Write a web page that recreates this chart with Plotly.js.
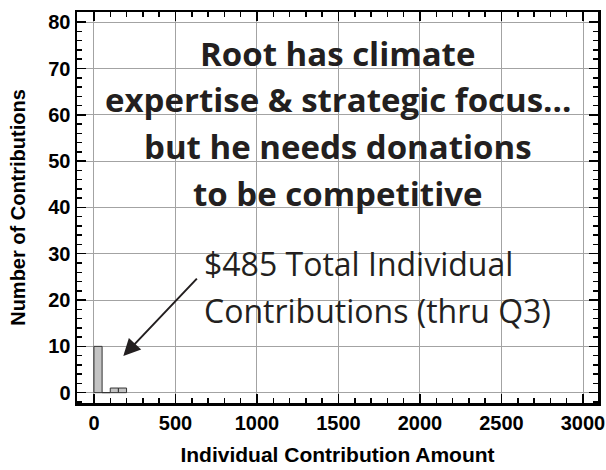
<!DOCTYPE html>
<html><head><meta charset="utf-8">
<script src="https://cdn.plot.ly/plotly-3.0.1.min.js"></script>
<style>html,body{margin:0;padding:0;background:#fff}#chart{width:606px;height:470px}</style>
</head><body><div id="chart"></div>
<script>
// ---- data ----
const binStarts = [0, 50, 100, 150];
const binCounts = [10, 0, 1, 1];
const binWidth = 50;
const xTickVals = [0, 500, 1000, 1500, 2000, 2500, 3000];
const xTickText = ["0", "500", "1000", "1500", "2000", "2500", "3000"];
const yTickVals = [0, 10, 20, 30, 40, 50, 60, 70, 80];
const yTickText = ["0", "10", "20", "30", "40", "50", "60", "70", "80"];
const headlineLines = ["Root has climate", "expertise & strategic focus...", "but he needs donations", "to be competitive"];
const calloutLines = ["$485 Total Individual", "Contributions (thru Q3)"];
const xTitleText = "Individual Contribution Amount";
const yTitleText = "Number of Contributions";

// ---- layout helpers ----
const headY = [73.3, 63.3, 53.2, 43.1];
const calloutY = [28.0, 17.7];
const inkColor = '#231f20';
const gridGray = '#a3a3a3';
const tickFont = {family: 'Liberation Sans, Arial, sans-serif', size: 20, color: '#000', weight: 'bold'};

const annotations = [];
headlineLines.forEach((t, i) => annotations.push({
  text: t, xref: 'x', yref: 'y', x: 1494, y: headY[i], xanchor: 'center', yanchor: 'middle',
  showarrow: false, font: {family: 'Open Sans, sans-serif', size: 33, color: inkColor, weight: 'bold'}
}));
calloutLines.forEach((t, i) => annotations.push({
  text: t, xref: 'x', yref: 'y', x: 662, y: calloutY[i], xanchor: 'left', yanchor: 'middle',
  showarrow: false, font: {family: 'Open Sans, sans-serif', size: 32, color: inkColor}
}));
annotations.push({
  text: '', xref: 'x', yref: 'y', x: 180, y: 7.9, ax: 75, ay: -79,
  showarrow: true, arrowhead: 2, arrowsize: 1.7, arrowwidth: 2, arrowcolor: inkColor, standoff: 0
});

const trace = {
  type: 'bar', x: binStarts, y: binCounts, width: binWidth, offset: 0,
  marker: {color: '#c4c4c4', line: {color: '#333', width: 1}},
  hoverinfo: 'skip'
};

const axisCommon = {
  ticks: 'inside', tickcolor: '#000', tickwidth: 1.5, ticklen: 9,
  mirror: 'allticks', showline: true, linecolor: '#000', linewidth: 2.5,
  showgrid: true, gridcolor: gridGray, gridwidth: 1,
  zeroline: true, zerolinecolor: gridGray, zerolinewidth: 1,
  tickfont: tickFont, fixedrange: true, tickmode: 'array'
};

const layout = {
  width: 606, height: 470,
  margin: {l: 77, r: 8, t: 12, b: 67},
  paper_bgcolor: '#fff', plot_bgcolor: '#fff',
  showlegend: false,
  bargap: 0,
  xaxis: Object.assign({}, axisCommon, {
    range: [-104, 3092], tickvals: xTickVals, ticktext: xTickText,
    minor: {tick0: 0, dtick: 100, ticks: 'inside', ticklen: 5, tickwidth: 1.5, tickcolor: '#000', showgrid: false},
    title: {text: xTitleText, font: {family: 'Liberation Sans, Arial, sans-serif', size: 21, color: '#000', weight: 'bold'}, standoff: 15}
  }),
  yaxis: Object.assign({}, axisCommon, {
    range: [-2.23, 82.2], tickvals: yTickVals, ticktext: yTickText,
    minor: {tick0: 0, dtick: 2, ticks: 'inside', ticklen: 5, tickwidth: 1.5, tickcolor: '#000', showgrid: false},
    title: {text: yTitleText, font: {family: 'Liberation Sans, Arial, sans-serif', size: 20, color: '#000', weight: 'bold'}, standoff: 18}
  }),
  annotations: annotations
};

Plotly.newPlot('chart', [trace], layout, {displayModeBar: false, staticPlot: true});
</script>
</body></html>
